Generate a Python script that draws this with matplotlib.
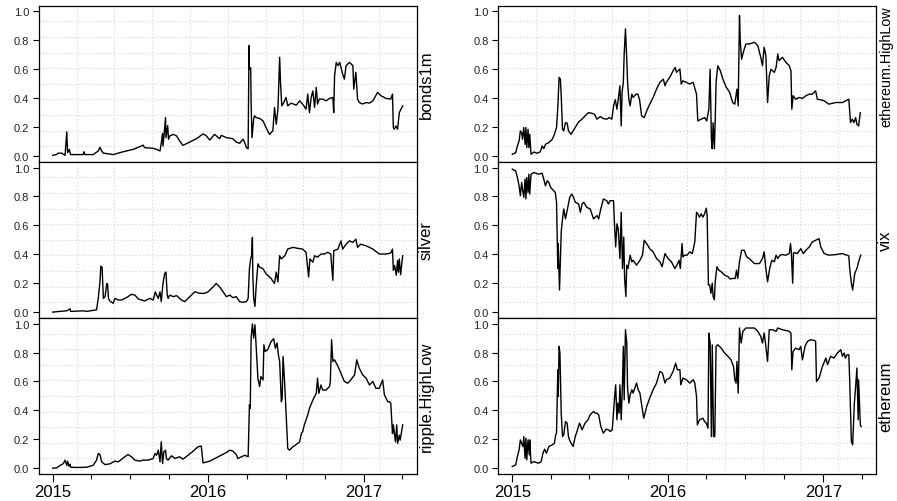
import numpy as np
import matplotlib
matplotlib.use('Agg')
import matplotlib.pyplot as plt
import matplotlib.dates as mdates

plt.rcParams['font.family'] = ['Liberation Sans', 'DejaVu Sans']

# dnevi od 2015-01-01, vrednosti normirane na 0..1
bonds_days = [0, 9, 13, 21, 29, 33, 35, 39, 42, 72, 73, 76, 95, 107, 111, 115, 119, 142, 166, 189, 209, 212, 216, 236, 244, 252, 255, 258, 259, 262, 265, 266, 270, 272, 275, 283, 291, 298, 306, 322, 338, 353, 361, 369, 380, 392, 396, 408, 423, 431, 439, 447, 451, 455, 459, 461, 462, 465, 466, 468, 472, 474, 478, 486, 494, 501, 509, 517, 521, 525, 529, 533, 535, 538, 541, 548, 552, 560, 572, 580, 587, 595, 599, 603, 607, 611, 615, 619, 622, 626, 634, 642, 650, 658, 660, 662, 666, 670, 674, 681, 685, 689, 697, 705, 707, 712, 716, 720, 728, 736, 744, 752, 763, 771, 783, 794, 798, 800, 802, 806, 810, 814, 818, 822]
bonds_vals = [0.005, 0.01, 0.02, 0.02, 0.005, 0.167, 0.023, 0.046, 0.01, 0.01, 0.03, 0.01, 0.01, 0.035, 0.06, 0.035, 0.02, 0.01, 0.03, 0.046, 0.07, 0.076, 0.058, 0.053, 0.046, 0.035, 0.09, 0.157, 0.069, 0.162, 0.266, 0.127, 0.21, 0.116, 0.139, 0.15, 0.139, 0.104, 0.074, 0.097, 0.12, 0.153, 0.139, 0.11, 0.15, 0.12, 0.143, 0.127, 0.12, 0.097, 0.088, 0.116, 0.093, 0.058, 0.05, 0.764, 0.6, 0.611, 0.37, 0.127, 0.255, 0.278, 0.266, 0.26, 0.243, 0.197, 0.15, 0.174, 0.336, 0.22, 0.324, 0.683, 0.509, 0.347, 0.36, 0.405, 0.347, 0.366, 0.352, 0.382, 0.359, 0.324, 0.428, 0.3, 0.405, 0.45, 0.336, 0.475, 0.359, 0.394, 0.394, 0.382, 0.398, 0.405, 0.3, 0.556, 0.648, 0.625, 0.648, 0.567, 0.532, 0.625, 0.648, 0.625, 0.463, 0.579, 0.394, 0.37, 0.36, 0.37, 0.366, 0.382, 0.44, 0.417, 0.398, 0.394, 0.428, 0.197, 0.185, 0.208, 0.185, 0.3, 0.324, 0.347]

silver_days = [0, 17, 33, 41, 42, 72, 80, 103, 107, 111, 113, 116, 119, 123, 127, 129, 131, 134, 142, 146, 154, 162, 173, 185, 193, 201, 209, 216, 228, 236, 241, 244, 248, 252, 255, 259, 263, 266, 269, 271, 275, 283, 291, 302, 310, 322, 334, 345, 357, 365, 377, 384, 392, 400, 408, 416, 423, 431, 439, 447, 455, 459, 462, 465, 467, 469, 470, 472, 475, 478, 482, 486, 494, 501, 513, 521, 525, 529, 533, 537, 545, 552, 564, 576, 587, 595, 601, 604, 611, 615, 622, 630, 638, 646, 653, 658, 660, 670, 677, 681, 689, 697, 705, 712, 716, 723, 736, 752, 767, 783, 794, 798, 800, 803, 807, 810, 812, 814, 817, 822]
silver_vals = [0.0, 0.005, 0.009, 0.023, 0.005, 0.009, 0.005, 0.016, 0.095, 0.21, 0.318, 0.311, 0.095, 0.107, 0.198, 0.191, 0.095, 0.077, 0.061, 0.095, 0.084, 0.084, 0.1, 0.123, 0.118, 0.091, 0.084, 0.077, 0.095, 0.084, 0.14, 0.118, 0.095, 0.14, 0.073, 0.198, 0.266, 0.277, 0.118, 0.095, 0.118, 0.107, 0.114, 0.084, 0.073, 0.107, 0.141, 0.13, 0.13, 0.141, 0.175, 0.198, 0.175, 0.141, 0.107, 0.118, 0.1, 0.107, 0.073, 0.068, 0.073, 0.095, 0.3, 0.368, 0.39, 0.516, 0.255, 0.095, 0.04, 0.186, 0.334, 0.311, 0.3, 0.266, 0.232, 0.198, 0.277, 0.209, 0.39, 0.368, 0.39, 0.436, 0.448, 0.441, 0.436, 0.414, 0.243, 0.368, 0.345, 0.39, 0.38, 0.402, 0.402, 0.414, 0.402, 0.22, 0.425, 0.436, 0.493, 0.436, 0.47, 0.493, 0.482, 0.505, 0.448, 0.47, 0.459, 0.436, 0.402, 0.402, 0.409, 0.436, 0.289, 0.323, 0.255, 0.357, 0.277, 0.368, 0.259, 0.39]

ripple_days = [0, 9, 17, 25, 29, 33, 35, 38, 41, 42, 56, 80, 95, 103, 107, 111, 115, 123, 134, 146, 154, 166, 177, 185, 193, 205, 212, 224, 236, 240, 244, 248, 252, 255, 258, 261, 265, 267, 271, 279, 287, 298, 306, 318, 330, 341, 349, 353, 369, 384, 396, 408, 416, 423, 431, 435, 443, 451, 459, 462, 464, 466, 469, 472, 475, 478, 482, 486, 489, 494, 496, 499, 505, 513, 519, 523, 527, 530, 533, 537, 539, 541, 545, 548, 552, 556, 564, 572, 580, 584, 587, 591, 595, 599, 603, 611, 615, 619, 622, 625, 630, 634, 642, 650, 652, 655, 658, 662, 670, 677, 685, 693, 700, 709, 714, 720, 728, 736, 744, 752, 759, 767, 775, 779, 787, 791, 794, 798, 800, 805, 808, 810, 814, 816, 822]
ripple_vals = [0.0, 0.002, 0.019, 0.032, 0.056, 0.019, 0.049, 0.014, 0.028, 0.007, 0.005, 0.007, 0.02, 0.056, 0.102, 0.095, 0.044, 0.025, 0.03, 0.049, 0.044, 0.072, 0.095, 0.079, 0.056, 0.049, 0.056, 0.056, 0.067, 0.102, 0.09, 0.125, 0.044, 0.183, 0.032, 0.113, 0.125, 0.067, 0.056, 0.086, 0.067, 0.079, 0.063, 0.09, 0.118, 0.148, 0.153, 0.037, 0.049, 0.072, 0.09, 0.109, 0.125, 0.118, 0.095, 0.067, 0.079, 0.09, 0.079, 0.438, 0.414, 0.9, 0.998, 0.9, 0.993, 0.83, 0.62, 0.565, 0.634, 0.611, 0.854, 0.808, 0.82, 0.877, 0.896, 0.83, 0.866, 0.785, 0.738, 0.46, 0.484, 0.773, 0.576, 0.39, 0.137, 0.125, 0.148, 0.164, 0.183, 0.24, 0.252, 0.3, 0.333, 0.368, 0.414, 0.472, 0.495, 0.518, 0.623, 0.518, 0.576, 0.541, 0.541, 0.565, 0.6, 0.889, 0.738, 0.75, 0.704, 0.657, 0.6, 0.588, 0.611, 0.646, 0.75, 0.692, 0.646, 0.623, 0.576, 0.6, 0.553, 0.553, 0.611, 0.507, 0.46, 0.46, 0.449, 0.24, 0.3, 0.183, 0.3, 0.171, 0.229, 0.194, 0.3]

ethhl_days = [0, 8, 12, 16, 19, 22, 24, 27, 30, 32, 34, 37, 39, 41, 44, 51, 58, 66, 70, 74, 78, 86, 94, 99, 104, 107, 110, 113, 115, 118, 121, 125, 129, 132, 138, 143, 148, 156, 164, 171, 179, 187, 193, 199, 207, 214, 222, 228, 234, 238, 242, 246, 249, 253, 256, 258, 261, 263, 266, 269, 271, 274, 277, 281, 284, 291, 295, 299, 304, 310, 316, 323, 331, 339, 347, 355, 359, 362, 370, 378, 383, 386, 394, 397, 401, 409, 417, 425, 433, 436, 444, 452, 457, 462, 465, 468, 470, 472, 475, 477, 479, 483, 489, 495, 503, 511, 518, 523, 528, 531, 534, 536, 539, 543, 549, 557, 569, 577, 584, 588, 592, 596, 600, 604, 608, 616, 620, 624, 627, 635, 643, 651, 655, 657, 660, 666, 674, 682, 690, 698, 705, 713, 717, 725, 733, 744, 760, 776, 791, 795, 799, 803, 807, 810, 814, 818]
ethhl_vals = [0.012, 0.023, 0.07, 0.104, 0.174, 0.162, 0.116, 0.197, 0.081, 0.197, 0.058, 0.185, 0.058, 0.15, 0.012, 0.028, 0.019, 0.03, 0.07, 0.051, 0.081, 0.093, 0.116, 0.15, 0.197, 0.336, 0.544, 0.532, 0.417, 0.185, 0.174, 0.231, 0.227, 0.174, 0.15, 0.174, 0.197, 0.236, 0.255, 0.278, 0.3, 0.296, 0.289, 0.255, 0.273, 0.259, 0.255, 0.266, 0.255, 0.347, 0.39, 0.324, 0.39, 0.486, 0.208, 0.44, 0.51, 0.706, 0.88, 0.67, 0.51, 0.393, 0.347, 0.428, 0.405, 0.428, 0.428, 0.393, 0.278, 0.266, 0.312, 0.359, 0.405, 0.463, 0.51, 0.532, 0.486, 0.51, 0.544, 0.59, 0.613, 0.579, 0.602, 0.498, 0.52, 0.51, 0.498, 0.51, 0.428, 0.243, 0.255, 0.266, 0.243, 0.324, 0.6, 0.116, 0.05, 0.23, 0.05, 0.255, 0.51, 0.625, 0.59, 0.532, 0.475, 0.44, 0.37, 0.359, 0.463, 0.347, 0.972, 0.787, 0.67, 0.718, 0.775, 0.775, 0.787, 0.764, 0.683, 0.625, 0.752, 0.694, 0.37, 0.556, 0.6, 0.579, 0.613, 0.706, 0.66, 0.683, 0.648, 0.625, 0.59, 0.324, 0.417, 0.393, 0.405, 0.398, 0.417, 0.428, 0.428, 0.451, 0.393, 0.389, 0.382, 0.359, 0.37, 0.37, 0.393, 0.231, 0.255, 0.231, 0.266, 0.22, 0.208, 0.3]

vix_days = [0, 8, 12, 16, 19, 22, 24, 27, 30, 32, 34, 37, 39, 41, 44, 51, 62, 70, 74, 78, 82, 86, 90, 97, 101, 104, 107, 108, 111, 115, 118, 121, 125, 129, 135, 140, 144, 148, 156, 160, 164, 168, 175, 183, 191, 199, 203, 208, 214, 222, 226, 230, 238, 240, 243, 246, 249, 253, 256, 259, 262, 264, 267, 269, 272, 277, 281, 284, 292, 300, 306, 310, 316, 323, 331, 339, 347, 352, 359, 366, 374, 382, 387, 392, 395, 399, 401, 405, 411, 417, 423, 429, 433, 436, 440, 444, 448, 452, 456, 458, 461, 464, 467, 470, 472, 475, 477, 481, 485, 491, 499, 507, 512, 518, 524, 527, 530, 534, 539, 545, 551, 557, 569, 581, 588, 592, 596, 600, 605, 610, 616, 620, 624, 629, 635, 643, 651, 654, 656, 659, 661, 670, 678, 684, 690, 698, 705, 713, 721, 725, 733, 744, 760, 776, 791, 793, 797, 800, 805, 810, 815, 819]
vix_vals = [0.989, 0.977, 0.931, 0.874, 0.805, 0.897, 0.851, 0.794, 0.92, 0.783, 0.931, 0.828, 0.954, 0.817, 0.954, 0.966, 0.954, 0.961, 0.92, 0.874, 0.908, 0.897, 0.863, 0.84, 0.828, 0.76, 0.302, 0.474, 0.153, 0.554, 0.645, 0.714, 0.645, 0.703, 0.794, 0.817, 0.794, 0.76, 0.748, 0.691, 0.748, 0.76, 0.725, 0.714, 0.645, 0.668, 0.645, 0.714, 0.783, 0.771, 0.748, 0.771, 0.771, 0.622, 0.451, 0.611, 0.577, 0.371, 0.691, 0.302, 0.519, 0.233, 0.108, 0.325, 0.302, 0.394, 0.348, 0.359, 0.325, 0.359, 0.394, 0.497, 0.474, 0.439, 0.417, 0.371, 0.348, 0.314, 0.405, 0.371, 0.348, 0.302, 0.325, 0.359, 0.302, 0.474, 0.382, 0.394, 0.394, 0.417, 0.405, 0.485, 0.691, 0.68, 0.657, 0.68, 0.657, 0.68, 0.719, 0.668, 0.188, 0.188, 0.13, 0.2, 0.108, 0.085, 0.211, 0.314, 0.291, 0.279, 0.256, 0.245, 0.229, 0.233, 0.233, 0.291, 0.233, 0.348, 0.428, 0.428, 0.382, 0.371, 0.336, 0.336, 0.371, 0.417, 0.302, 0.21, 0.302, 0.359, 0.348, 0.394, 0.371, 0.394, 0.398, 0.394, 0.405, 0.474, 0.405, 0.2, 0.412, 0.405, 0.439, 0.405, 0.428, 0.451, 0.485, 0.497, 0.508, 0.451, 0.405, 0.394, 0.398, 0.405, 0.389, 0.302, 0.2, 0.153, 0.268, 0.302, 0.359, 0.394]

eth_days = [0, 8, 12, 16, 19, 22, 25, 27, 30, 32, 34, 37, 40, 41, 44, 51, 57, 62, 68, 72, 76, 80, 86, 94, 99, 102, 104, 105, 107, 108, 110, 112, 115, 118, 121, 125, 129, 132, 136, 143, 148, 152, 158, 164, 171, 178, 183, 191, 195, 199, 203, 208, 214, 221, 226, 230, 235, 240, 243, 246, 248, 251, 253, 256, 259, 261, 263, 266, 269, 271, 274, 277, 281, 284, 292, 296, 300, 304, 309, 316, 323, 331, 339, 347, 353, 359, 362, 370, 378, 384, 388, 394, 396, 401, 409, 417, 425, 429, 433, 435, 440, 448, 452, 456, 460, 462, 465, 468, 470, 473, 476, 479, 483, 491, 499, 507, 514, 520, 523, 526, 528, 531, 534, 538, 542, 549, 557, 569, 577, 584, 588, 592, 596, 600, 604, 612, 620, 624, 635, 643, 651, 655, 657, 660, 666, 674, 678, 682, 688, 694, 701, 709, 713, 715, 721, 729, 737, 741, 748, 756, 764, 772, 776, 780, 783, 787, 791, 793, 797, 800, 804, 807, 810, 813, 814, 818, 820]
eth_vals = [0.012, 0.023, 0.081, 0.127, 0.196, 0.173, 0.15, 0.219, 0.069, 0.208, 0.058, 0.196, 0.092, 0.196, 0.035, 0.046, 0.039, 0.035, 0.046, 0.104, 0.132, 0.104, 0.15, 0.162, 0.173, 0.231, 0.242, 0.381, 0.681, 0.497, 0.843, 0.797, 0.381, 0.219, 0.231, 0.323, 0.312, 0.219, 0.185, 0.15, 0.219, 0.254, 0.312, 0.266, 0.312, 0.335, 0.37, 0.393, 0.381, 0.381, 0.37, 0.289, 0.243, 0.27, 0.266, 0.254, 0.266, 0.473, 0.577, 0.335, 0.45, 0.381, 0.577, 0.335, 0.589, 0.843, 0.473, 0.958, 0.866, 0.554, 0.45, 0.508, 0.543, 0.52, 0.589, 0.543, 0.52, 0.439, 0.346, 0.427, 0.485, 0.543, 0.589, 0.67, 0.658, 0.589, 0.612, 0.624, 0.67, 0.727, 0.681, 0.681, 0.577, 0.624, 0.612, 0.589, 0.612, 0.589, 0.497, 0.3, 0.335, 0.346, 0.323, 0.312, 0.277, 0.935, 0.866, 0.219, 0.854, 0.219, 0.219, 0.843, 0.854, 0.831, 0.797, 0.774, 0.75, 0.704, 0.612, 0.589, 0.739, 0.52, 0.97, 0.866, 0.947, 0.97, 0.97, 0.97, 0.947, 0.912, 0.866, 0.935, 0.843, 0.739, 0.958, 0.958, 0.947, 0.97, 0.958, 0.953, 0.947, 0.935, 0.681, 0.808, 0.831, 0.82, 0.843, 0.75, 0.843, 0.878, 0.889, 0.885, 0.878, 0.6, 0.624, 0.704, 0.762, 0.716, 0.774, 0.762, 0.797, 0.82, 0.774, 0.797, 0.762, 0.785, 0.785, 0.612, 0.185, 0.162, 0.45, 0.566, 0.693, 0.335, 0.612, 0.3, 0.289]

left_names = ['bonds1m', 'silver', 'ripple.HighLow']
right_names = ['ethereum.HighLow', 'vix', 'ethereum']
left_series = [(bonds_days, bonds_vals), (silver_days, silver_vals), (ripple_days, ripple_vals)]
right_series = [(ethhl_days, ethhl_vals), (vix_days, vix_vals), (eth_days, eth_vals)]

base = np.datetime64('2015-01-01')


def toDates(days):
    return base + np.array(days).astype('timedelta64[D]')


def drawPanel(ax, days, vals, name, bottom, xlim):
    ax.plot(toDates(days), vals, color='black', lw=1.0)
    ax.set_xlim(xlim)
    ax.set_ylim(-0.04, 1.04)
    # grid kot v R: 10 enakih delov
    for gx in np.linspace(xlim[0], xlim[1], 11)[1:-1]:
        ax.axvline(gx, color='lightgray', ls=(0, (1, 2.2)), lw=0.8, zorder=0)
    for gy in np.linspace(-0.04, 1.04, 11)[1:-1]:
        ax.axhline(gy, color='lightgray', ls=(0, (1, 2.2)), lw=0.8, zorder=0)
    ax.set_yticks([0, 0.2, 0.4, 0.6, 0.8, 1.0])
    ax.set_yticklabels(['0.0', '0.2', '0.4', '0.6', '0.8', '1.0'], fontsize=8, color='#222222')
    ax.tick_params(axis='y', direction='out', length=4.5, width=0.8, pad=2.5)
    if bottom:
        ax.xaxis.set_major_locator(mdates.YearLocator())
        ax.xaxis.set_major_formatter(mdates.DateFormatter('%Y'))
        ax.xaxis.set_minor_locator(mdates.MonthLocator(bymonth=[4, 7, 10]))
        ax.tick_params(axis='x', which='major', direction='out', length=5.5, width=0.8, pad=2, labelsize=12)
        ax.tick_params(axis='x', which='minor', direction='out', length=3.5, width=0.8)
    else:
        ax.set_xticks([])
        ax.xaxis.set_minor_locator(matplotlib.ticker.NullLocator())
    for s in ax.spines.values():
        s.set_linewidth(0.9)
    # ethereum.HighLow je na sliki manjsi in visje
    if name == 'ethereum.HighLow':
        ax.annotate(name, xy=(1, 0.617), xycoords='axes fraction', xytext=(2.5, 0),
                    textcoords='offset points', rotation=90, ha='left', va='center', fontsize=10.4)
    else:
        ax.annotate(name, xy=(1, 0.5), xycoords='axes fraction', xytext=(1.5, 0),
                    textcoords='offset points', rotation=90, ha='left', va='center', fontsize=12)


if __name__ == '__main__':
    W, H = 897, 502
    fig = plt.figure(figsize=(W / 100, H / 100), dpi=100)

    # x obseg: 4% razsiritev kot v R
    allDays = bonds_days + eth_days
    d0, d1 = min(allDays), max(allDays)
    pad = 0.04 * (d1 - d0)
    xlim = (mdates.date2num(base) + d0 - pad, mdates.date2num(base) + d1 + pad)

    panelH = 156.1
    for col, (x0, x1, names, series) in enumerate([(38.7, 416.7, left_names, left_series),
                                                   (498.3, 876.0, right_names, right_series)]):
        for i in range(3):
            top = 6.7 + i * panelH
            ax = fig.add_axes([x0 / W, 1 - (top + panelH) / H, (x1 - x0) / W, panelH / H])
            days, vals = series[i]
            drawPanel(ax, days, vals, names[i], i == 2, xlim)

    fig.savefig('out.png', dpi=100)
